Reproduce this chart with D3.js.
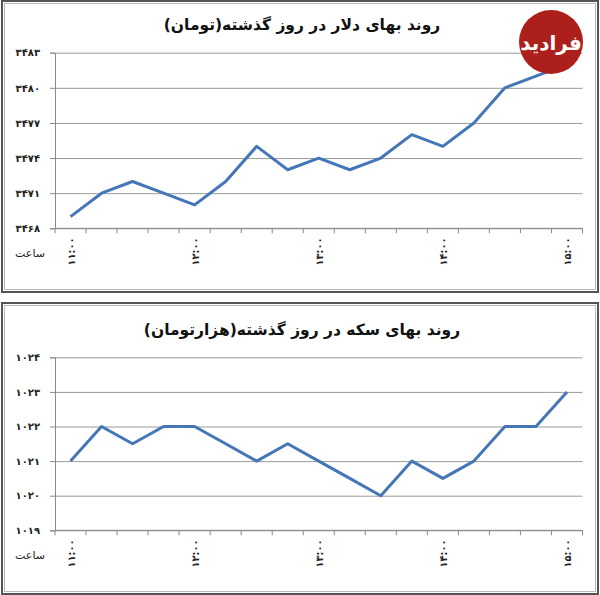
<!DOCTYPE html>
<html><head><meta charset="utf-8">
<script src="https://cdn.jsdelivr.net/npm/d3@7/dist/d3.min.js"></script>
<style>body{margin:0;background:#fff}svg{display:block}</style>
</head><body>
<svg id="c" width="600" height="595"></svg>
<script>
// ---- data ----
const times = ["11:00","11:15","11:30","11:45","12:00","12:15","12:30","12:45","13:00","13:15","13:30","13:45","14:00","14:15","14:30","14:45","15:00"];
const dollarValues = [3469,3471,3472,3471,3470,3472,3475,3473,3474,3473,3474,3476,3475,3477,3480,3481,3482];
const coinValues = [1021,1022,1021.5,1022,1022,1021.5,1021,1021.5,1021,1020.5,1020,1021,1020.5,1021,1022,1022,1023];
const dollarTicks = [3468,3471,3474,3477,3480,3483];
const coinTicks = [1019,1020,1021,1022,1023,1024];
const dollarTitle = "روند بهای دلار در روز گذشته(تومان)";
const coinTitle = "روند بهای سکه در روز گذشته(هزارتومان)";
const xAxisName = "ساعت";
const logoText = "فرادید";

const fa = s => String(s).replace(/\d/g, d => "۰۱۲۳۴۵۶۷۸۹"[d]);
const svg = d3.select("#c");
const FONT = "'DejaVu Sans', sans-serif";
const LINE = "#4577b8";

function panel(cfg){
  const g = svg.append("g");
  g.append("rect").attr("x",2).attr("y",cfg.top+1).attr("width",596).attr("height",cfg.h-2)
    .attr("fill","#fff").attr("stroke","#555").attr("stroke-width",2);
  g.append("rect").attr("x",4.5).attr("y",cfg.top+3.5).attr("width",591).attr("height",cfg.h-7)
    .attr("fill","none").attr("stroke","#bbb").attr("stroke-width",1);

  g.append("text").attr("x",302).attr("y",cfg.titleY).attr("text-anchor","middle")
    .attr("direction","rtl").style("font-family",FONT).style("font-weight","bold")
    .style("font-size","15.5px").attr("fill","#111").text(cfg.title);

  const x = d3.scaleBand().domain(times).range([55,582.5]);
  const y = d3.scaleLinear().domain(cfg.domain).range([cfg.y0, cfg.y1]);

  // gridlines
  g.append("g").attr("transform","translate(55,0)")
    .call(d3.axisLeft(y).tickValues(cfg.ticks).tickSize(-527.5).tickFormat(""))
    .call(a=>a.select(".domain").remove())
    .call(a=>a.selectAll("line").attr("stroke","#9a9a9a").attr("stroke-width",1));

  // y axis
  g.append("g").attr("transform","translate(55,0)")
    .call(d3.axisLeft(y).tickValues(cfg.ticks).tickSize(5).tickPadding(10).tickFormat(fa))
    .call(a=>a.select(".domain").attr("stroke","#8a8a8a"))
    .call(a=>a.selectAll("line").attr("stroke","#8a8a8a"))
    .call(a=>a.selectAll("text").style("font-family",FONT).style("font-size","10px")
      .style("font-weight","bold").style("letter-spacing","1.5px").attr("fill","#222"));

  // x axis: ticks at band boundaries
  const xa = g.append("g");
  xa.append("line").attr("x1",55).attr("x2",582.5).attr("y1",cfg.y0).attr("y2",cfg.y0)
    .attr("stroke","#8a8a8a");
  const bounds = times.map(t=>x(t)).concat([x(times[times.length-1])+x.bandwidth()]);
  xa.selectAll("line.tk").data(bounds).join("line").attr("class","tk")
    .attr("x1",d=>d).attr("x2",d=>d).attr("y1",cfg.y0).attr("y2",cfg.y0+5).attr("stroke","#8a8a8a");
  xa.selectAll("text").data(times.filter(t=>t.endsWith(":00"))).join("text")
    .attr("transform",t=>`translate(${x(t)+x.bandwidth()/2+4},${cfg.y0+9}) rotate(-90)`)
    .attr("text-anchor","end").attr("direction","ltr")
    .style("font-family",FONT).style("font-size","10px").style("font-weight","bold")
    .style("letter-spacing","1px").attr("fill","#222")
    .text(fa);

  g.append("text").attr("x",45).attr("y",cfg.y0+29).attr("text-anchor","end")
    .style("font-family",FONT).style("font-size","11px").attr("fill","#222").text(xAxisName);

  // line
  g.append("path").datum(cfg.values)
    .attr("d", d3.line().x((d,i)=>x(times[i])+x.bandwidth()/2).y(d=>y(d)))
    .attr("fill","none").attr("stroke",LINE).attr("stroke-width",3).attr("stroke-linejoin","round");
}

panel({top:0,h:293,titleY:30,title:dollarTitle,domain:[3468,3483],ticks:dollarTicks,y0:228.3,y1:52.7,values:dollarValues});
panel({top:302,h:293,titleY:335,title:coinTitle,domain:[1019,1024],ticks:coinTicks,y0:530.3,y1:357.3,values:coinValues});

// logo
const lg = svg.append("g");
lg.append("circle").attr("cx",551).attr("cy",42).attr("r",32).attr("fill","#ad1f1b");
lg.append("text").attr("x",551).attr("y",50).attr("text-anchor","middle").attr("direction","rtl")
  .style("font-family",FONT).style("font-weight","bold").style("font-size","20px").attr("fill","#fff")
  .text(logoText);
</script>
</body></html>
